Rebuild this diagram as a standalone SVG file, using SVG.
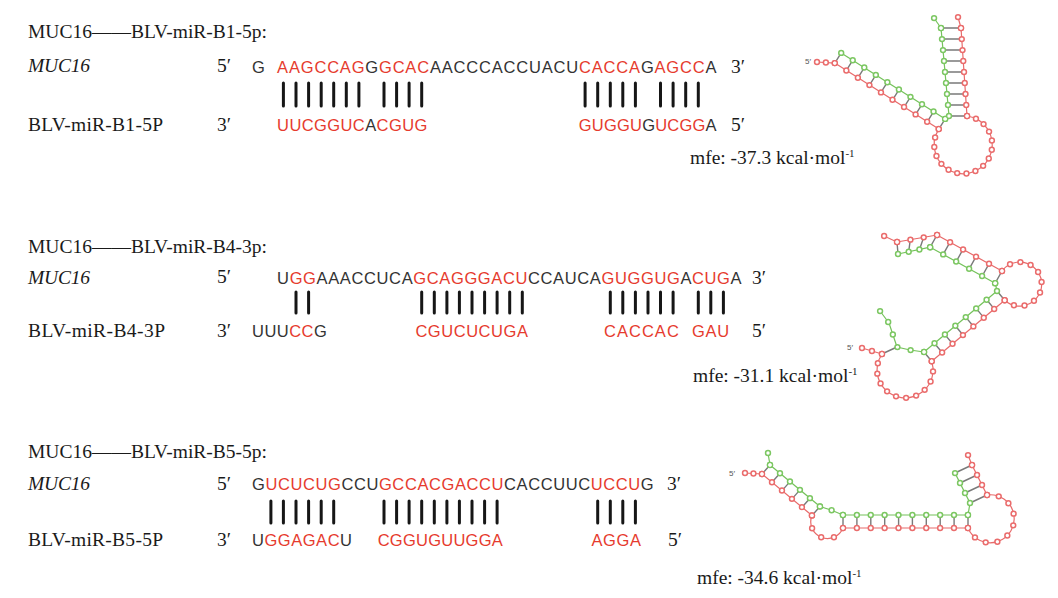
<svg xmlns="http://www.w3.org/2000/svg" width="1058" height="598" viewBox="0 0 1058 598">
<style>
.lbl{font-family:"Liberation Serif","Times New Roman",serif;font-size:19.5px;fill:#1a1a1a}
.it{font-style:italic}
.seq{font-family:"Liberation Sans",Arial,sans-serif;font-size:16.5px;fill:#333}
.r{fill:#e63b2e}
.bar{fill:none;stroke:#161616;stroke-width:3;stroke-linecap:round}
.sup{font-size:11px}
.tiny{font-family:"Liberation Sans",Arial,sans-serif;font-size:8px;fill:#555}
.rl{fill:none;stroke:#e86a6a;stroke-width:1.2}
.gl{fill:none;stroke:#74c25a;stroke-width:1.2}
.rung{fill:none;stroke:#7a7a7a;stroke-width:1.4}
.rd{fill:none;stroke:#ea6c6c;stroke-width:6.4;stroke-linecap:round;stroke-dasharray:0 1}
.gd{fill:none;stroke:#7cc762;stroke-width:6.4;stroke-linecap:round;stroke-dasharray:0 1}
.wd{fill:none;stroke:#fff;stroke-width:3.4;stroke-linecap:round;stroke-dasharray:0 1}
</style>
<defs>
<g id="s1r">
<path d="M817,62 L834.8,63.1" pathLength="2.01"/>
<path d="M834.8,63.1 L938.8,129.1" pathLength="9.01"/>
<path d="M938.8,129.1 A29,29 0 1 0 967,116" pathLength="16.01"/>
<path d="M967,116 L961,28" pathLength="8.01"/>
<path d="M961,28 L958,17" pathLength="1.01"/>
</g>
<g id="s1g">
<path d="M841.2,52.9 L945.2,118.9" pathLength="9.01"/>
<path d="M945.2,118.9 L949,116" pathLength="0.5"/>
<path d="M949,116 L941,28" pathLength="8.01"/>
<path d="M941,28 L934,18" pathLength="1.01"/>
</g>
<g id="s2r">
<path d="M862,348 L882,354" pathLength="2.01"/>
<path d="M882,354 A28,28 0 1 0 931.7,361.2" pathLength="11.01"/>
<path d="M931.7,361.2 L1004.7,300.2" pathLength="7.01"/>
<path d="M1002,271 A22,22 0 1 1 1004.7,300.2" pathLength="10.01"/>
<path d="M1002,271 L937,235" pathLength="5.01"/>
<path d="M937,235 L897,242" pathLength="3.01"/>
<path d="M897,242 L884,236" pathLength="1.01"/>
</g>
<g id="s2g">
<path d="M898,254 L930.2,247.2" pathLength="3.01"/>
<path d="M930.2,247.2 L995.2,283.2" pathLength="5.01"/>
<path d="M995.2,283.2 L997,291" pathLength="0.5"/>
<path d="M997,291 L924,352" pathLength="7.01"/>
<path d="M924,352 L910,350 L897,347 L893,335 L889,323 L880,311" pathLength="5.01"/>
</g>
<g id="s3r">
<path d="M745,473 L762,474" pathLength="2.01"/>
<path d="M762,474 L812,515.5" pathLength="5.01"/>
<path d="M812,515.5 A16,16 0 1 0 843,528" pathLength="4.01"/>
<path d="M843,528 L968,528" pathLength="9.01"/>
<path d="M968,528 A24,24 0 1 0 987,495" pathLength="9.01"/>
<path d="M987,495 L972,465" pathLength="3.01"/>
<path d="M972,465 L968,455" pathLength="1.01"/>
</g>
<g id="s3g">
<path d="M768,453 L770,465" pathLength="1.01"/>
<path d="M770,465 L820,506.5" pathLength="5.01"/>
<path d="M820,506.5 L831,510 L843,515" pathLength="2.01"/>
<path d="M843,515 L968,515" pathLength="9.01"/>
<path d="M968,515 L970,503" pathLength="0.5"/>
<path d="M970,503 L955,473" pathLength="3.01"/>
</g>
</defs>
<rect width="1058" height="598" fill="#fff"/>

<g id="block1">
<text class="lbl" x="28" y="38" textLength="239">MUC16——BLV-miR-B1-5p:</text>
<text class="lbl it" x="28" y="72" textLength="62">MUC16</text>
<text class="lbl" x="217" y="72">5′</text>
<text class="seq" x="252" y="73">G</text>
<text class="seq" x="277.1" y="73" textLength="439.4"><tspan class="r">AAGCCAG</tspan>G<tspan class="r">GCAC</tspan>AACCCACCUACU<tspan class="r">CACCA</tspan>G<tspan class="r">AGCC</tspan>A</text>
<text class="lbl" x="731" y="73">3′</text>
<text class="lbl" x="28" y="131" textLength="135">BLV-miR-B1-5P</text>
<text class="lbl" x="217" y="131">3′</text>
<text class="seq" x="277.1" y="131" textLength="150.2"><tspan class="r">UUCGGUC</tspan>A<tspan class="r">CGUG</tspan></text>
<text class="seq" x="578.8" y="131" textLength="137.7"><tspan class="r">GUGGU</tspan>G<tspan class="r">UCGG</tspan>A</text>
<text class="lbl" x="731" y="131">5′</text>
<text class="lbl" x="690" y="164">mfe: -37.3 kcal·mol<tspan class="sup" dy="-7">-1</tspan></text>
</g>

<g id="block2">
<text class="lbl" x="28" y="253" textLength="239">MUC16——BLV-miR-B4-3p:</text>
<text class="lbl it" x="28" y="284" textLength="62">MUC16</text>
<text class="lbl" x="217" y="283">5′</text>
<text class="seq" x="277.1" y="284" textLength="464.5">U<tspan class="r">GG</tspan>AAACCUCA<tspan class="r">GCAGGGACU</tspan>CCAUCA<tspan class="r">GUGGUG</tspan>A<tspan class="r">CUG</tspan>A</text>
<text class="lbl" x="752" y="284">3′</text>
<text class="lbl" x="28" y="337" textLength="137">BLV-miR-B4-3P</text>
<text class="lbl" x="217" y="337">3′</text>
<text class="seq" x="252" y="337" textLength="74.8">UUU<tspan class="r">CC</tspan>G</text>
<text class="seq r" x="415.4" y="337" textLength="112.5">CGUCUCUGA</text>
<text class="seq r" x="604" y="337" textLength="74.8">CACCAC</text>
<text class="seq r" x="692" y="337" textLength="37.1">GAU</text>
<text class="lbl" x="752" y="337">5′</text>
<text class="lbl" x="693" y="382">mfe: -31.1 kcal·mol<tspan class="sup" dy="-7">-1</tspan></text>
</g>

<g id="block3">
<text class="lbl" x="28" y="458" textLength="239">MUC16——BLV-miR-B5-5p:</text>
<text class="lbl it" x="28" y="490" textLength="62">MUC16</text>
<text class="lbl" x="217" y="490">5′</text>
<text class="seq" x="252" y="490" textLength="401.6">G<tspan class="r">UCUCUG</tspan>CCU<tspan class="r">GCCACGACCU</tspan>CACCUUC<tspan class="r">UCCU</tspan>G</text>
<text class="lbl" x="667" y="490">3′</text>
<text class="lbl" x="28" y="546" textLength="135">BLV-miR-B5-5P</text>
<text class="lbl" x="217" y="546">3′</text>
<text class="seq" x="252" y="546" textLength="100">U<tspan class="r">GGAGAC</tspan>U</text>
<text class="seq r" x="377.7" y="546" textLength="125.1">CGGUGUUGGA</text>
<text class="seq r" x="591.4" y="546" textLength="49.7">AGGA</text>
<text class="lbl" x="668" y="546">5′</text>
<text class="lbl" x="697" y="584">mfe: -34.6 kcal·mol<tspan class="sup" dy="-7">-1</tspan></text>
</g>

<g id="connectors">
<path class="bar" d="M283.4,83V106M296,83V106M308.6,83V106M321.2,83V106M333.7,83V106M346.3,83V106M358.9,83V106M384,83V106M396.6,83V106M409.1,83V106M421.7,83V106M585.1,83V106M597.7,83V106M610.3,83V106M622.8,83V106M635.4,83V106M660.5,83V106M673.1,83V106M685.7,83V106M698.3,83V106"/>
<path class="bar" d="M296,292V313M308.6,292V313M421.7,292V313M434.3,292V313M446.9,292V313M459.4,292V313M472,292V313M484.6,292V313M497.1,292V313M509.7,292V313M522.3,292V313M610.3,292V313M622.8,292V313M635.4,292V313M648,292V313M660.5,292V313M673.1,292V313M698.3,292V313M710.8,292V313M723.4,292V313"/>
<path class="bar" d="M270.9,501V523M283.4,501V523M296,501V523M308.6,501V523M321.2,501V523M333.7,501V523M384,501V523M396.6,501V523M409.1,501V523M421.7,501V523M434.3,501V523M446.9,501V523M459.4,501V523M472,501V523M484.6,501V523M497.1,501V523M597.7,501V523M610.3,501V523M622.8,501V523M635.4,501V523"/>
</g>

<g id="structure1">
<use href="#s1r" class="rl"/>
<use href="#s1g" class="gl"/>
<path class="rung" d="M834.8,63.1L841.2,52.9M846.4,70.4L852.8,60.2M857.9,77.8L864.3,67.6M869.5,85.1L875.9,74.9M881,92.4L887.4,82.2M892.6,99.8L899,89.6M904.1,107.1L910.5,96.9M915.7,114.4L922.1,104.2M927.2,121.8L933.6,111.6M938.8,129.1L945.2,118.9M941,28H961M942,39H961.8M943,50H962.5M944,61H963.3M945,72H964M946,83H964.8M947,94H965.5M948,105H966.3M949,116H967"/>
<use href="#s1r" class="rd"/>
<use href="#s1g" class="gd"/>
<use href="#s1r" class="wd"/>
<use href="#s1g" class="wd"/>
<text class="tiny" x="805" y="64">5′</text>
</g>

<g id="structure2">
<use href="#s2r" class="rl"/>
<use href="#s2g" class="gl"/>
<path class="rung" d="M897,242L898,254M910.3,239.7L908.7,251.7M923.7,237.3L919.5,249.4M937,235L930.2,247.2M950,242.2L943.2,254.4M963,249.4L956.2,261.6M976,256.6L969.2,268.8M989,263.8L982.2,276M1002,271L995.2,283.2M997,291L1004.7,300.2M986.6,299.7L994.3,308.9M976.1,308.4L983.8,317.6M965.7,317.1L973.4,326.3M955.3,325.8L963,335M944.9,334.6L952.6,343.8M934.4,343.3L942.1,352.5M924,352L931.7,361.2M897,347L884,353"/>
<use href="#s2r" class="rd"/>
<use href="#s2g" class="gd"/>
<use href="#s2r" class="wd"/>
<use href="#s2g" class="wd"/>
<text class="tiny" x="847" y="350">5′</text>
</g>

<g id="structure3">
<use href="#s3r" class="rl"/>
<use href="#s3g" class="gl"/>
<path class="rung" d="M770,465L762,474M780,473.3L772,482.3M790,481.6L782,490.6M800,489.9L792,498.9M810,498.2L802,507.2M820,506.5L812,515.5M843,515V528M856.9,515V528M870.8,515V528M884.7,515V528M898.6,515V528M912.4,515V528M926.3,515V528M940.2,515V528M954.1,515V528M968,515V528M970,503L987,495M965,493L982,485M960,483L977,475M955,473L972,465"/>
<use href="#s3r" class="rd"/>
<use href="#s3g" class="gd"/>
<use href="#s3r" class="wd"/>
<use href="#s3g" class="wd"/>
<text class="tiny" x="729" y="476">5′</text>
</g>
</svg>
